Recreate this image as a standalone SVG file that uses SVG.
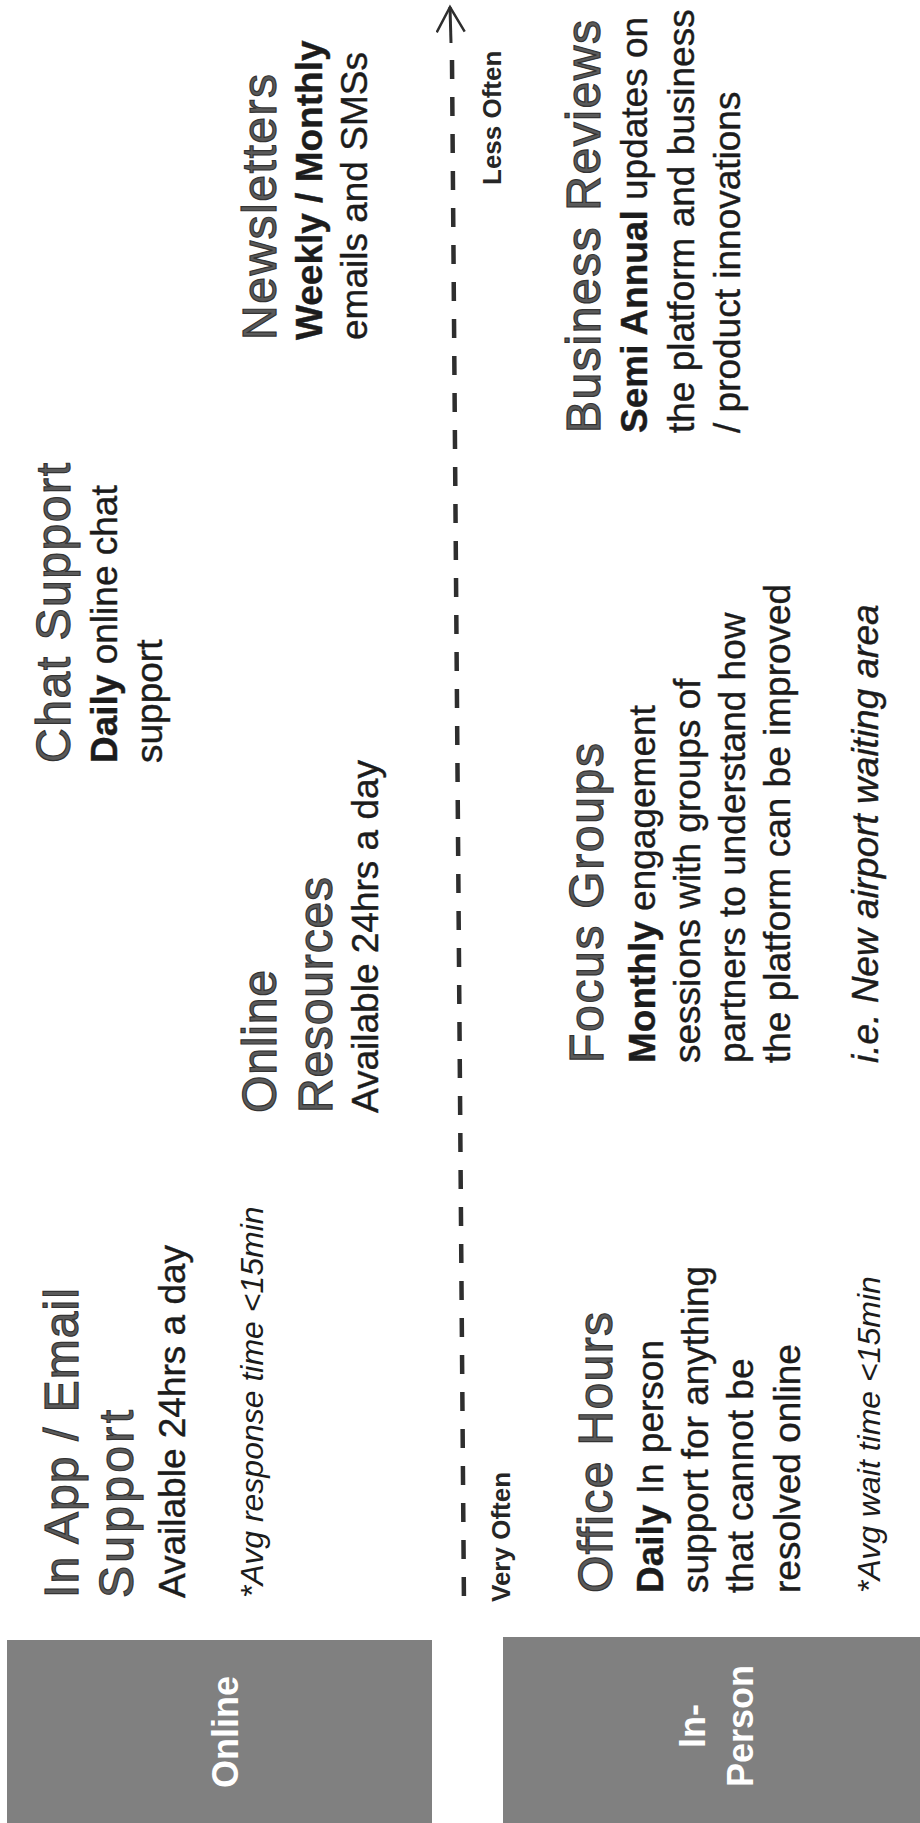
<svg xmlns="http://www.w3.org/2000/svg" width="920" height="1823" viewBox="0 0 920 1823">
  <style>
    text { font-family: "Liberation Sans", Arial, Helvetica, sans-serif; }
    .title { font-size: 48px; fill: #5a5a5a; stroke: #333333; stroke-width: 1.2px; }
    .body { font-size: 37px; fill: #1c1c1c; stroke: #1c1c1c; stroke-width: 0.4px; }
    .note { font-size: 32px; font-style: italic; fill: #1c1c1c; }
    .eg { font-size: 37px; font-style: italic; fill: #1c1c1c; stroke: #1c1c1c; stroke-width: 0.4px; }
    .b { font-weight: bold; }
    .hdr-box { fill: #808080; }
    .hdr { font-size: 36px; font-weight: bold; fill: #ffffff; }
    .axis-lbl { font-size: 26px; font-weight: bold; fill: #262626; }
    .axis { stroke: #2e2e2e; stroke-width: 4.5; fill: none; }
  </style>
  <defs>
    <marker id="arrow" viewBox="0 0 30 30" refX="27" refY="15" markerWidth="30" markerHeight="30" markerUnits="userSpaceOnUse" orient="auto">
      <path d="M2,1 L27,15 L2,29" fill="none" stroke="#2e2e2e" stroke-width="2.5"/>
    </marker>
  </defs>
  <rect x="0" y="0" width="920" height="1823" fill="#ffffff"/>

  <g id="connectors">
    <path class="axis" d="M452,60 L464,1607" stroke-dasharray="19 18"/>
    <path d="M451,43 L450,7" stroke="#2e2e2e" stroke-width="3" fill="none" marker-end="url(#arrow)"/>
  </g>

  <g id="axis-labels">
    <text class="axis-lbl" transform="translate(510,1602) rotate(-90)">Very Often</text>
    <text class="axis-lbl" transform="translate(501,185) rotate(-90)">Less Often</text>
  </g>

  <g id="online-header">
    <rect class="hdr-box" x="7" y="1640" width="425" height="190"/>
    <text class="hdr" transform="translate(238,1732) rotate(-90)" text-anchor="middle">Online</text>
  </g>

  <g id="inperson-header">
    <rect class="hdr-box" x="503" y="1637" width="420" height="190"/>
    <text class="hdr" transform="translate(705,1726) rotate(-90)" text-anchor="middle">In-</text>
    <text class="hdr" transform="translate(753,1726) rotate(-90)" text-anchor="middle">Person</text>
  </g>

  <g id="in-app-email" transform="translate(78,1598) rotate(-90)">
    <text class="title" x="0" y="0" textLength="310" lengthAdjust="spacing">In App / Email</text>
    <text class="title" x="0" y="55" textLength="188" lengthAdjust="spacing">Support</text>
    <text class="body" x="0" y="107">Available 24hrs a day</text>
    <text class="note" x="0" y="185">*Avg response time &lt;15min</text>
  </g>

  <g id="online-resources" transform="translate(276,1113) rotate(-90)">
    <text class="title" x="0" y="0" textLength="143" lengthAdjust="spacing">Online</text>
    <text class="title" x="0" y="56" textLength="236" lengthAdjust="spacing">Resources</text>
    <text class="body" x="0" y="102">Available 24hrs a day</text>
  </g>

  <g id="chat-support" transform="translate(70,763) rotate(-90)">
    <text class="title" x="0" y="0" textLength="300" lengthAdjust="spacing">Chat Support</text>
    <text class="body" x="0" y="47"><tspan class="b">Daily</tspan> online chat</text>
    <text class="body" x="0" y="92">support</text>
  </g>

  <g id="newsletters" transform="translate(276,340) rotate(-90)">
    <text class="title" x="0" y="0" textLength="266" lengthAdjust="spacing">Newsletters</text>
    <text class="body b" x="0" y="46">Weekly / Monthly</text>
    <text class="body" x="0" y="91">emails and SMSs</text>
  </g>

  <g id="office-hours" transform="translate(612,1593) rotate(-90)">
    <text class="title" x="0" y="0" textLength="281" lengthAdjust="spacing">Office Hours</text>
    <text class="body" x="0" y="51"><tspan class="b">Daily</tspan> In person</text>
    <text class="body" x="0" y="96">support for anything</text>
    <text class="body" x="0" y="141">that cannot be</text>
    <text class="body" x="0" y="188">resolved online</text>
    <text class="note" x="0" y="268">*Avg wait time &lt;15min</text>
  </g>

  <g id="focus-groups" transform="translate(603,1063) rotate(-90)">
    <text class="title" x="0" y="0" textLength="320" lengthAdjust="spacing">Focus Groups</text>
    <text class="body" x="0" y="52"><tspan class="b">Monthly</tspan> engagement</text>
    <text class="body" x="0" y="97">sessions with groups of</text>
    <text class="body" x="0" y="142">partners to understand how</text>
    <text class="body" x="0" y="187">the platform can be improved</text>
    <text class="eg" x="0" y="275">i.e. New airport waiting area</text>
  </g>

  <g id="business-reviews" transform="translate(600,433) rotate(-90)">
    <text class="title" x="0" y="0" textLength="413" lengthAdjust="spacing">Business Reviews</text>
    <text class="body" x="0" y="47"><tspan class="b">Semi Annual</tspan> updates on</text>
    <text class="body" x="0" y="94">the platform and business</text>
    <text class="body" x="0" y="140">/ product innovations</text>
  </g>
</svg>
